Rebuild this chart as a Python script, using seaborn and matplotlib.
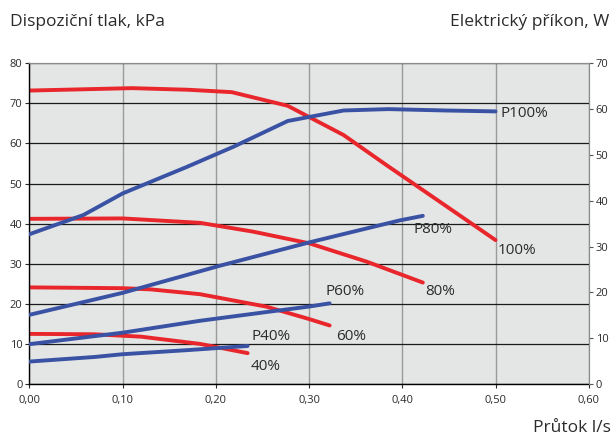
import matplotlib
matplotlib.use('Agg')
import matplotlib.pyplot as plt
import seaborn as sns
import pandas as pd

# Pressure curves (left axis, kPa)
x_100 = [0.0, 0.11, 0.17, 0.217, 0.277, 0.337, 0.383, 0.44, 0.50]
p_100 = [73.2, 73.8, 73.4, 72.8, 69.4, 62.1, 54.6, 45.5, 35.9]
x_80 = [0.0, 0.10, 0.183, 0.24, 0.30, 0.362, 0.422]
p_80 = [41.2, 41.3, 40.2, 38.0, 35.1, 30.5, 25.3]
x_60 = [0.0, 0.10, 0.13, 0.183, 0.254, 0.30, 0.322]
p_60 = [24.1, 23.9, 23.6, 22.4, 19.3, 16.2, 14.6]
x_40 = [0.0, 0.07, 0.12, 0.183, 0.234]
p_40 = [12.5, 12.4, 11.8, 10.0, 7.7]

# Power curves (right axis, W)
xw_100 = [0.0, 0.058, 0.10, 0.169, 0.219, 0.277, 0.337, 0.385, 0.446, 0.50]
w_100 = [32.7, 36.9, 41.6, 47.4, 51.8, 57.4, 59.7, 60.0, 59.7, 59.5]
xw_80 = [0.0, 0.10, 0.204, 0.30, 0.397, 0.422]
w_80 = [15.1, 19.9, 25.8, 30.9, 35.7, 36.7]
xw_60 = [0.0, 0.10, 0.183, 0.254, 0.30, 0.322]
w_60 = [8.7, 11.2, 13.8, 15.7, 16.9, 17.6]
xw_40 = [0.0, 0.07, 0.10, 0.17, 0.234]
w_40 = [4.9, 5.9, 6.5, 7.4, 8.3]

x_ticks = [0.0, 0.1, 0.2, 0.3, 0.4, 0.5, 0.6]
x_tick_labels = ['0,00', '0,10', '0,20', '0,30', '0,40', '0,50', '0,60']

pressure = [('100%', x_100, p_100), ('80%', x_80, p_80), ('60%', x_60, p_60), ('40%', x_40, p_40)]
power = [('P100%', xw_100, w_100), ('P80%', xw_80, w_80), ('P60%', xw_60, w_60), ('P40%', xw_40, w_40)]

# label positions in left-axis data coords
label_pos = {
    '100%': (0.502, 33.4), '80%': (0.425, 23.0), '60%': (0.329, 11.8), '40%': (0.2377, 4.3),
    'P100%': (0.505, 67.5), 'P80%': (0.4125, 38.6), 'P60%': (0.318, 23.0), 'P40%': (0.2377, 11.8),
}

sns.set_style('white')
plt.rcParams['font.family'] = ['Open Sans', 'DejaVu Sans']

red = '#e8262b'
blue = '#3a52a3'
text_col = '#2b2b2b'

fig = plt.figure(figsize=(6.12, 4.38), dpi=100)
ax = fig.add_axes([0.0482, 0.1233, 0.9138, 0.7322])
ax.set_facecolor('#e4e5e5')
ax2 = ax.twinx()

for name, xs, ys in pressure:
    df = pd.DataFrame({'x': xs, 'y': ys})
    sns.lineplot(data=df, x='x', y='y', ax=ax, color=red, linewidth=2.8, sort=False)
for name, xs, ys in power:
    df = pd.DataFrame({'x': xs, 'y': ys})
    sns.lineplot(data=df, x='x', y='y', ax=ax2, color=blue, linewidth=2.8, sort=False)

ax.set_xlim(0, 0.6)
ax.set_ylim(0, 80)
ax2.set_ylim(0, 70)
ax.set_xticks(x_ticks)
ax.set_xticklabels(x_tick_labels)
ax.set_yticks(range(0, 81, 10))
ax2.set_yticks(range(0, 71, 10))
ax.set_xlabel('')
ax.set_ylabel('')
ax2.set_xlabel('')
ax2.set_ylabel('')

ax.xaxis.grid(True, color='#9a9a9a', linewidth=1.0)
ax.yaxis.grid(True, color='#1a1a1a', linewidth=0.9)
ax.set_axisbelow(True)

for a in (ax, ax2):
    a.tick_params(axis='both', labelsize=8, colors=text_col, length=3, width=0.8, direction='out', pad=2)
ax.tick_params(axis='x', pad=5)
ax.tick_params(left=True, bottom=True)
ax2.tick_params(right=True, colors='#555555', labelcolor=text_col)

ax.spines['left'].set_color('black')
ax.spines['bottom'].set_color('black')
ax.spines['left'].set_linewidth(1.0)
ax.spines['bottom'].set_linewidth(1.0)
for s in ('top', 'right'):
    ax.spines[s].set_color('#8c8c8c')
    ax2.spines[s].set_color('#8c8c8c')
ax2.spines['left'].set_visible(False)
ax2.spines['bottom'].set_visible(False)

for name, (lx, ly) in label_pos.items():
    ax.text(lx, ly, name, fontsize=11, color=text_col, ha='left', va='center')

fig.text(10 / 612, 1 - 22 / 438, 'Dispoziční tlak, kPa', fontsize=12.5, color=text_col, ha='left', va='center')
fig.text(609 / 612, 1 - 22 / 438, 'Elektrický příkon, W', fontsize=12.5, color=text_col, ha='right', va='center')
fig.text(611 / 612, 1 - 428 / 438, 'Průtok l/s', fontsize=12.5, color=text_col, ha='right', va='center')

fig.savefig('out.png', dpi=100)
